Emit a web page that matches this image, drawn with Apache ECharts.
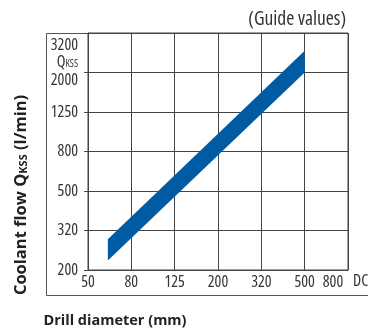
<!DOCTYPE html>
<html>
<head>
<meta charset="utf-8">
<script src="https://cdn.jsdelivr.net/npm/echarts@6/dist/echarts.min.js"></script>
<style>
  html, body { margin: 0; padding: 0; background: #fff; }
  #chart { width: 368px; height: 331px; }
</style>
</head>
<body>
<div id="chart"></div>
<script>
// Nominal grid values (R-series steps, drawn equally spaced)
const xTicks = [50, 80, 125, 200, 320, 500, 800];
const yTicks = [200, 320, 500, 800, 1250, 2000, 3200];

// Coolant flow band: drill diameter (mm) vs. lower / upper flow (l/min)
const bandDiameter = [62, 500];
const bandLower = [224, 2000];
const bandUpper = [288, 2590];

const COND = '"Open Sans", "Roboto Condensed", sans-serif';
const STRETCH = 'condensed';          // used as the font-style slot of the font shorthand
const BOLD = '"Open Sans", "Noto Sans", sans-serif';
const GRID = '#444';
const TXT = '#333';
const TICK_FS = 16;

// Position of a value on an axis whose ticks are equally spaced nominal values
// (logarithmic between neighbouring ticks).
function tickPos(v, ticks) {
  for (let i = 0; i < ticks.length - 1; i++) {
    if (v <= ticks[i + 1] || i === ticks.length - 2) {
      return i + Math.log(v / ticks[i]) / Math.log(ticks[i + 1] / ticks[i]);
    }
  }
  return 0;
}

const bandData = bandDiameter.map((d, i) => [
  tickPos(d, xTicks), tickPos(bandLower[i], yTicks), tickPos(bandUpper[i], yTicks)
]);

const chart = echarts.init(document.getElementById('chart'), null, { renderer: 'canvas' });

function tok(size, extra) {
  return Object.assign({ fontSize: size, fontFamily: COND, fontStyle: STRETCH, color: TXT }, extra || {});
}

chart.setOption({
  animation: false,
  backgroundColor: '#fff',
  grid: {
    left: 88, top: 33, right: 20, bottom: 61,
    show: true, borderColor: GRID, borderWidth: 1, backgroundColor: 'transparent'
  },
  xAxis: {
    type: 'value', min: 0, max: xTicks.length - 1, interval: 1,
    axisLine: { show: true, lineStyle: { color: GRID, width: 1 } },
    axisTick: { show: false },
    splitLine: { show: true, lineStyle: { color: GRID, width: 1 } },
    axisLabel: {
      margin: 4, showMinLabel: true, showMaxLabel: true, hideOverlap: false,
      color: TXT, fontSize: TICK_FS, fontFamily: COND, fontStyle: STRETCH,
      formatter: function (val) {
        const idx = Math.round(val);
        return (idx === xTicks.length - 1 ? '{r|' : '{v|') + xTicks[idx] + '}';
      },
      rich: {
        v: tok(TICK_FS),
        r: tok(TICK_FS, { padding: [0, 30, 0, 0] })
      }
    }
  },
  yAxis: {
    type: 'value', min: 0, max: yTicks.length - 1, interval: 1,
    axisLine: { show: true, lineStyle: { color: GRID, width: 1 } },
    axisTick: { show: true, length: 4, lineStyle: { color: GRID, width: 1 } },
    splitLine: { show: true, lineStyle: { color: GRID, width: 1 } },
    axisLabel: {
      margin: 10, showMinLabel: true, showMaxLabel: true, hideOverlap: false,
      color: TXT, fontSize: TICK_FS, fontFamily: COND, fontStyle: STRETCH,
      formatter: function (val) {
        const idx = Math.round(val);
        const t = yTicks[idx];
        // top two labels sit a little below their grid lines
        if (idx === yTicks.length - 1) return '{g| }\n{v|' + t + '}';
        if (idx === yTicks.length - 2) return '{h| }\n{v|' + t + '}';
        return '{v|' + t + '}';
      },
      rich: {
        g: tok(TICK_FS, { lineHeight: 24 }),
        h: tok(TICK_FS, { lineHeight: 16 }),
        v: tok(TICK_FS, { lineHeight: 17 })
      }
    }
  },
  graphic: [
    // outer frame
    { type: 'polyline', silent: true, shape: { points: [[88, 33.5], [46.5, 33.5], [46.5, 295.5], [368, 295.5]] },
      style: { stroke: '#555', lineWidth: 1, fill: null } },
    // quantity symbol under the top value label
    { type: 'text', silent: true, x: 78, y: 62,
      style: {
        text: '{q|Q}{k|KSS}', align: 'right', verticalAlign: 'middle',
        rich: {
          q: { font: STRETCH + ' normal ' + TICK_FS + 'px ' + COND, fill: TXT },
          k: { font: STRETCH + ' normal 10px ' + COND, fill: TXT, verticalAlign: 'bottom', padding: [0, 0, 1, 0] }
        }
      } },
    { type: 'text', silent: true, x: 346, y: 19,
      style: { text: '(Guide values)', font: STRETCH + ' normal 19.5px ' + COND, fill: TXT, align: 'right', verticalAlign: 'middle' } },
    { type: 'text', silent: true, x: 353, y: 281,
      style: { text: 'DC', font: STRETCH + ' normal 16px ' + COND, fill: TXT, align: 'left', verticalAlign: 'middle' } },
    { type: 'text', silent: true, x: 115, y: 321,
      style: { text: 'Drill diameter (mm)', font: 'bold 14.5px ' + BOLD, fill: '#222', align: 'center', verticalAlign: 'middle' } },
    { type: 'text', silent: true, x: 21, y: 195, rotation: Math.PI / 2,
      style: {
        text: '{t|Coolant flow Q}{s|KSS}{t| (l/min)}',
        align: 'center', verticalAlign: 'middle',
        rich: {
          t: { font: 'bold 16.5px ' + BOLD, fill: '#222' },
          s: { font: 'bold 11px ' + BOLD, fill: '#222', verticalAlign: 'bottom' }
        }
      } }
  ],
  series: [{
    type: 'custom',
    clip: false,
    encode: { x: 0, y: [1, 2] },
    data: bandData,
    renderItem: function (params, api) {
      const i = params.dataIndex;
      if (i >= bandData.length - 1) return null;
      const a = bandData[i], b = bandData[i + 1];
      const pts = [
        api.coord([a[0], a[2]]), api.coord([b[0], b[2]]),
        api.coord([b[0], b[1]]), api.coord([a[0], a[1]])
      ];
      return { type: 'polygon', shape: { points: pts }, style: { fill: '#005ba3', stroke: null } };
    }
  }]
});
</script>
</body>
</html>
